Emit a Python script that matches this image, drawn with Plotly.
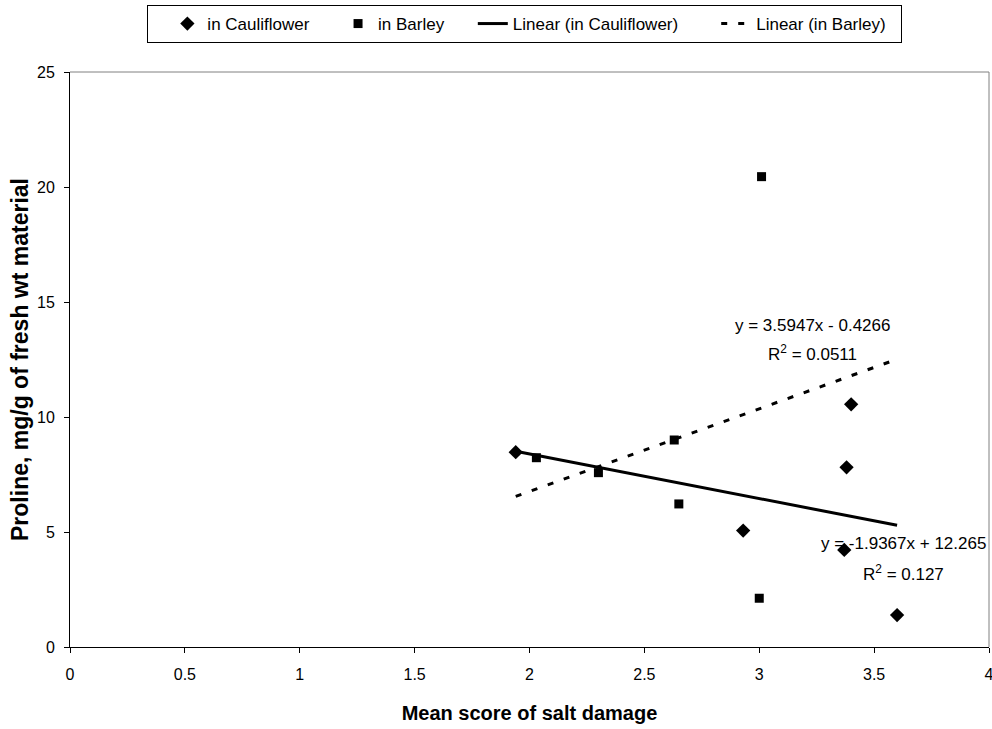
import plotly.graph_objects as go

# Data
cauli_x = [1.94, 3.40, 3.38, 2.93, 3.37, 3.60]
cauli_y = [8.47, 10.55, 7.81, 5.06, 4.22, 1.39]
barley_x = [3.01, 2.03, 2.30, 2.63, 2.65, 3.00]
barley_y = [20.45, 8.23, 7.58, 9.00, 6.22, 2.12]

# Trendline coefficients as printed on the chart
cauli_slope, cauli_int = -1.9367, 12.265
barley_slope, barley_int = 3.5947, -0.4266
trend_x = [1.94, 3.60]

NB = "\u00a0"
FONT = "Liberation Sans, Arial, sans-serif"

fig = go.Figure()
fig.add_trace(go.Scatter(
    x=cauli_x, y=cauli_y, mode="markers", name="in Cauliflower" + NB * 5,
    marker=dict(symbol="diamond", size=11, color="black")))
fig.add_trace(go.Scatter(
    x=barley_x, y=barley_y, mode="markers", name="in Barley" + NB * 5,
    marker=dict(symbol="square", size=9, color="black")))
fig.add_trace(go.Scatter(
    x=trend_x, y=[cauli_slope * v + cauli_int for v in trend_x],
    mode="lines", name="Linear (in Cauliflower)" + NB * 7,
    line=dict(color="black", width=3)))
fig.add_trace(go.Scatter(
    x=trend_x, y=[barley_slope * v + barley_int for v in trend_x],
    mode="lines", name="Linear (in Barley)" + NB * 2,
    line=dict(color="black", width=3, dash="6px,11px")))

ann_font = dict(family=FONT, size=17, color="black")
fig.add_annotation(x=3.23, y=14.0, text="y = 3.5947x - 0.4266", showarrow=False, font=ann_font)
fig.add_annotation(x=3.23, y=12.78, text="R<sup>2</sup> = 0.0511", showarrow=False, font=ann_font)
fig.add_annotation(x=3.626, y=4.48, text="y = -1.9367x + 12.265", showarrow=False, font=ann_font)
fig.add_annotation(x=3.626, y=3.23, text="R<sup>2</sup> = 0.127", showarrow=False, font=ann_font)

fig.update_layout(
    width=992, height=729,
    margin=dict(l=70, r=2.5, t=72, b=82, autoexpand=False),
    paper_bgcolor="white", plot_bgcolor="white",
    font=dict(family=FONT, size=16, color="black"),
    showlegend=True,
    legend=dict(orientation="h", x=0.0837, y=1.1165, xanchor="left", yanchor="top",
                bordercolor="black", borderwidth=1, bgcolor="white",
                font=dict(family=FONT, size=17), itemwidth=30,
                title=dict(text=NB * 2, side="left", font=dict(family=FONT, size=17))),
    xaxis=dict(range=[0, 4], dtick=0.5, showgrid=False, zeroline=False, automargin=False,
               showline=True, linecolor="black", linewidth=1,
               ticks="outside", ticklen=5, tickcolor="black", ticklabelstandoff=8,
               ticklabeloverflow="allow",
               tickfont=dict(family=FONT, size=16),
               title=dict(text="<b>Mean score of salt damage</b>",
                          font=dict(family=FONT, size=20), standoff=23)),
    yaxis=dict(range=[0, 25], dtick=5, showgrid=False, zeroline=False, automargin=False,
               showline=True, linecolor="black", linewidth=1,
               ticks="outside", ticklen=5, tickcolor="black", ticklabelstandoff=6,
               tickfont=dict(family=FONT, size=16),
               title=dict(text="<b>Proline, mg/g of fresh wt material</b>",
                          font=dict(family=FONT, size=23), standoff=1)),
)
# plot-area border on top and right (gray)
fig.add_shape(type="line", xref="paper", yref="paper", x0=0, x1=1, y0=1, y1=1,
              line=dict(color="#808080", width=1))
fig.add_shape(type="line", xref="paper", yref="paper", x0=1, x1=1, y0=0, y1=1,
              line=dict(color="#808080", width=1))

# remove the default page margin so the figure fills the 992x729 window exactly
fig.write_html("out.html",
               config={"displayModeBar": False},
               post_script="document.body.style.margin='0px';document.body.style.overflow='hidden';")
